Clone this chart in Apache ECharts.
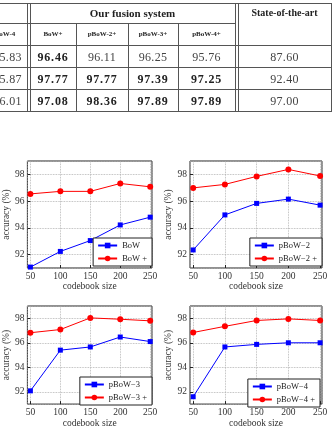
<!DOCTYPE html>
<html>
<head>
<meta charset="utf-8">
<title>codebook size vs accuracy</title>
<script src="https://cdn.jsdelivr.net/npm/echarts@6/dist/echarts.min.js"></script>
<style>
  html, body { margin: 0; padding: 0; background: #fff; }
  #wrap { position: relative; width: 332px; height: 429px; overflow: hidden; }
  #chart { position: absolute; left: 0; top: 0; width: 332px; height: 429px; }
  #tbl { position: absolute; left: 0; top: 0; width: 332px; height: 115px; font-family: 'Liberation Serif', serif; color: #444; }
  .hl { position: absolute; height: 1px; background: #555; }
  .vl { position: absolute; width: 1px; background: #555; }
  .cell { position: absolute; transform: translate(-50%, -50%); white-space: nowrap; line-height: 1; }
  .num { font-size: 12px; letter-spacing: 0.3px; }
  .num.b { font-weight: bold; color: #222; letter-spacing: 0.8px; }
  .hd { font-size: 7px; font-weight: bold; color: #222; }
</style>
</head>
<body>
<div id="wrap">
  <div id="chart"></div>
  <div id="tbl"></div>
</div>
<script>
// ---- table data ----
var colHeaders = ['pBoW-4', 'BoW+', 'pBoW-2+', 'pBoW-3+', 'pBoW-4+']
var pbow4Col = ['95.83', '95.87', '96.01']
var fusionRows = [
  ['96.46', '96.11', '96.25', '95.76'],
  ['97.77', '97.77', '97.39', '97.25'],
  ['97.08', '98.36', '97.89', '97.89']
]
var fusionBold = [
  [true, false, false, false],
  [true, true, true, true],
  [true, true, true, true]
]
var stateOfArt = ['87.60', '92.40', '97.00']

// ---- chart data ----
var codebookSizes = [50, 100, 150, 200, 250]
var bow       = [91.07, 92.24, 93.05, 94.22, 94.80]
var bowPlus   = [96.54, 96.73, 96.73, 97.32, 97.07]
var pbow2     = [92.35, 94.97, 95.83, 96.15, 95.70]
var pbow2Plus = [96.99, 97.25, 97.85, 98.37, 97.88]
var pbow3     = [92.08, 95.40, 95.66, 96.47, 96.10]
var pbow3Plus = [96.82, 97.08, 98.03, 97.92, 97.79]
var pbow4     = [91.60, 95.66, 95.87, 96.00, 96.00]
var pbow4Plus = [96.84, 97.34, 97.82, 97.95, 97.82]

// ---- table drawing ----
var tbl = document.getElementById('tbl')
function el(cls, css, txt) {
  var d = document.createElement('div')
  d.className = cls
  for (var k in css) d.style[k] = css[k] + 'px'
  if (txt != null) d.textContent = txt
  tbl.appendChild(d)
  return d
}
var rowY = [3, 23, 45, 66.5, 88.5, 111]       // horizontal rules
// horizontal
el('hl', {left: 0, top: rowY[0], width: 332})
el('hl', {left: 0, top: rowY[1], width: 236})
for (var r = 2; r < rowY.length; r++) el('hl', {left: 0, top: rowY[r], width: 332})
// verticals
el('vl', {left: 27, top: 3, height: 108})
el('vl', {left: 30, top: 3, height: 108})
el('vl', {left: 76, top: 23, height: 88})
el('vl', {left: 128, top: 23, height: 88})
el('vl', {left: 178, top: 23, height: 88})
el('vl', {left: 235, top: 3, height: 108})
el('vl', {left: 238, top: 3, height: 108})
el('vl', {left: 331, top: 3, height: 108})

var t = el('cell', {left: 132.5, top: 12.5}, 'Our fusion system')
t.style.fontSize = '11px'; t.style.fontWeight = 'bold'; t.style.color = '#222'
t = el('cell', {left: 284.5, top: 12.5}, 'State-of-the-art')
t.style.fontSize = '10px'; t.style.fontWeight = 'bold'; t.style.color = '#222'

var colCenters = [3, 53, 102, 153, 206.5]
var valCenters = [7.5, 53, 102, 153, 206.5]
for (var c = 0; c < colHeaders.length; c++) {
  el('cell hd', {left: colCenters[c], top: 34}, colHeaders[c])
}
for (var r = 0; r < 3; r++) {
  var cy = (rowY[r + 2] + rowY[r + 3]) / 2 + 1
  el('cell num', {left: valCenters[0], top: cy}, pbow4Col[r])
  for (var c = 0; c < 4; c++) {
    el('cell num' + (fusionBold[r][c] ? ' b' : ''), {left: valCenters[c + 1], top: cy}, fusionRows[r][c])
  }
  el('cell num', {left: 284.5, top: cy}, stateOfArt[r])
}

// ---- charts ----
var myChart = echarts.init(document.getElementById('chart'))
var font = 'Liberation Serif'
var panels = [
  {grid: {left: 20, top: 161, width: 132, height: 107}, names: ['BoW', 'BoW +'], data: [bow, bowPlus], legend: {right: 180, top: 238}},
  {grid: {left: 190, top: 161, width: 132, height: 107}, names: ['pBoW\u22122', 'pBoW\u22122 +'], data: [pbow2, pbow2Plus], legend: {right: 10, top: 238}},
  {grid: {left: 20, top: 306, width: 132, height: 102}, names: ['pBoW\u22123', 'pBoW\u22123 +'], data: [pbow3, pbow3Plus], legend: {right: 180, top: 377}},
  {grid: {left: 190, top: 306, width: 132, height: 102}, names: ['pBoW\u22124', 'pBoW\u22124 +'], data: [pbow4, pbow4Plus], legend: {right: 12, top: 379}}
]

var option = {
  backgroundColor: '#fff',
  animation: false,
  grid: [], xAxis: [], yAxis: [], series: [], legend: []
}
panels.forEach(function (p, i) {
  option.grid.push(Object.assign({show: true, borderColor: '#222', borderWidth: 1, backgroundColor: '#fff'}, p.grid))
  option.xAxis.push({
    type: 'value', gridIndex: i, min: 45, max: 253,
    name: 'codebook size', nameLocation: 'middle', nameGap: 13,
    nameTextStyle: {fontFamily: font, fontSize: 9.5, color: '#333'},
    axisLine: {show: false},
    axisTick: {inside: true, length: 3, lineStyle: {color: '#222'}},
    axisLabel: {showMinLabel: false, showMaxLabel: false, margin: 3, fontFamily: font, fontSize: 9.5, color: '#333'},
    splitLine: {show: true, lineStyle: {type: 'dotted', color: '#aaa', width: 0.8}}
  })
  option.yAxis.push({
    type: 'value', gridIndex: i, min: 91, max: 99,
    name: 'accuracy (%)', nameLocation: 'middle', nameGap: 14,
    nameTextStyle: {fontFamily: font, fontSize: 9.5, color: '#333'},
    axisLine: {show: false},
    axisTick: {inside: true, length: 3, lineStyle: {color: '#222'}},
    axisLabel: {showMinLabel: false, showMaxLabel: false, margin: 3, fontFamily: font, fontSize: 9.5, color: '#333'},
    splitLine: {show: true, lineStyle: {type: 'dotted', color: '#aaa', width: 0.8}}
  })
  var styles = [
    {color: '#0000ff', symbol: 'rect', symbolSize: 5},
    {color: '#ff0000', symbol: 'circle', symbolSize: 6}
  ]
  for (var s = 0; s < 2; s++) {
    var sdata = []
    for (var j in codebookSizes) sdata.push([codebookSizes[j], p.data[s][j]])
    option.series.push({
      name: p.names[s], type: 'line', xAxisIndex: i, yAxisIndex: i,
      data: sdata, symbol: styles[s].symbol, symbolSize: styles[s].symbolSize,
      lineStyle: {color: styles[s].color, width: 1},
      itemStyle: {color: styles[s].color},
      z: 3 + s
    })
  }
  option.legend.push(Object.assign({
    data: p.names, orient: 'vertical',
    backgroundColor: '#fff', borderColor: '#222', borderWidth: 1,
    padding: [3, 5, 3, 4], itemWidth: 19, itemHeight: 7, itemGap: 4,
    textStyle: {fontFamily: font, fontSize: 8.5, color: '#222'}
  }, p.legend))
})
myChart.setOption(option)
</script>
</body>
</html>
